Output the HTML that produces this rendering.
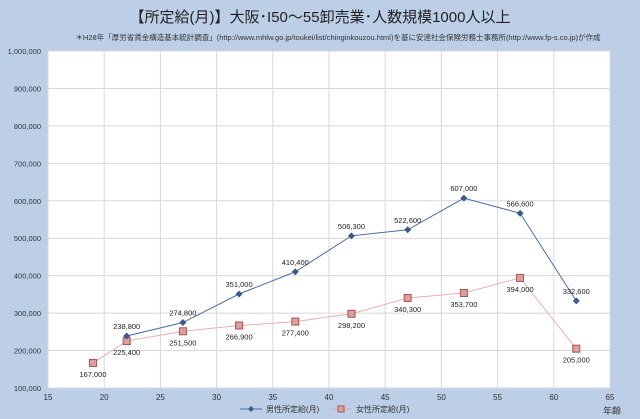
<!DOCTYPE html>
<html><head><meta charset="utf-8"><style>
body{margin:0;background:#bccfe6;}
svg{display:block;font-family:"Liberation Sans","Noto Sans CJK JP",sans-serif;}
</style></head><body>
<svg id="c" width="640" height="419">
<rect width="640" height="419" fill="#bccfe6"/>
<text x="320" y="22" text-anchor="middle" font-size="15" fill="#222">【所定給(月)】大阪･I50～55卸売業･人数規模1000人以上</text>
<text x="338" y="40" text-anchor="middle" font-size="7.5" fill="#333">＊H28年「厚労省賃金構造基本統計調査」(http://www.mhlw.go.jp/toukei/list/chinginkouzou.html)を基に安達社会保険労務士事務所(http://www.fp-s.co.jp)が作成</text>
<rect x="48" y="51" width="562" height="337" fill="#fff"/>
<g id="grid"></g><g id="axes"></g><g id="series"></g>
<g>
<line x1="240" y1="409" x2="262" y2="409" stroke="#4a6ea9"/>
<path d="M251 406 L254 409 L251 412 L248 409Z" fill="#3c5a8c"/>
<text x="266" y="412" font-size="8" fill="#333">男性所定給(月)</text>
<line x1="330" y1="409" x2="352" y2="409" stroke="#e8a8a8"/>
<rect x="338" y="406" width="6" height="6" fill="#d9a0a0" stroke="#b05050"/>
<text x="356" y="412" font-size="8" fill="#333">女性所定給(月)</text>
</g>
<text x="612" y="414" text-anchor="middle" font-size="9" fill="#333">年齢</text>
</svg>
<script>
const xTicks=[15,20,25,30,35,40,45,50,55,60,65];
const yTicks=[100000,200000,300000,400000,500000,600000,700000,800000,900000,1000000];
const maleAges=[22,27,32,37,42,47,52,57,62];
const maleValues=[238800,274800,351000,410400,506300,522600,607000,566600,332600];
const femaleAges=[19,22,27,32,37,42,47,52,57,62];
const femaleValues=[167000,225400,251500,266900,277400,298200,340300,353700,394000,205000];
const NS="http://www.w3.org/2000/svg";
const X=v=>48+(v-15)/50*562;
const Y=v=>388-(v-100000)/900000*337;
function mk(tag,attrs,parent,text){const e=document.createElementNS(NS,tag);for(const k in attrs)e.setAttribute(k,attrs[k]);if(text!==undefined)e.textContent=text;parent.appendChild(e);return e;}
const fmt=v=>v.toLocaleString('en-US');
const grid=document.getElementById('grid'),axes=document.getElementById('axes'),ser=document.getElementById('series');
xTicks.forEach(t=>{
 const l=mk('line',{x1:X(t),x2:X(t),y1:51,y2:388,stroke:'#d9d9d9'},grid);
 
 
 const tx=mk('text',{x:X(t),y:400,'text-anchor':'middle','font-size':8,fill:'#333'},axes,String(t));
 
 
});
yTicks.forEach(t=>{
 const l=mk('line',{x1:48,x2:610,y1:Y(t),y2:Y(t),stroke:'#d9d9d9'},grid);
 
 
 const tx=mk('text',{x:41,y:Y(t)+3,'text-anchor':'end','font-size':7.5,fill:'#333'},axes,fmt(t));
 
 
});
function series(ages,vals,color,name,marker,labelDy){
 const pl=mk('polyline',{points:ages.map((a,i)=>X(a)+','+Y(vals[i])).join(' '),fill:'none',stroke:color,'stroke-width':1},ser);
 
 
 ages.forEach((a,i)=>{
  const x=X(a),y=Y(vals[i]);let m;
  if(marker==='d'){m=mk('path',{d:`M${x} ${y-3.5}L${x+3.5} ${y}L${x} ${y+3.5}L${x-3.5} ${y}Z`,fill:'#3c5a8c'},ser);}
  else{m=mk('rect',{x:x-3.5,y:y-3.5,width:7,height:7,fill:'#d9a0a0',stroke:'#b05050'},ser);}
  
  
  const t=mk('text',{x:x,y:y+labelDy,'text-anchor':'middle','font-size':7.5,fill:'#222'},ser,fmt(vals[i]));
  
  
 });
}
series(femaleAges,femaleValues,'#eab0b0','female','s',14);
series(maleAges,maleValues,'#4a6ea9','male','d',-7);
</script>
</body></html>
